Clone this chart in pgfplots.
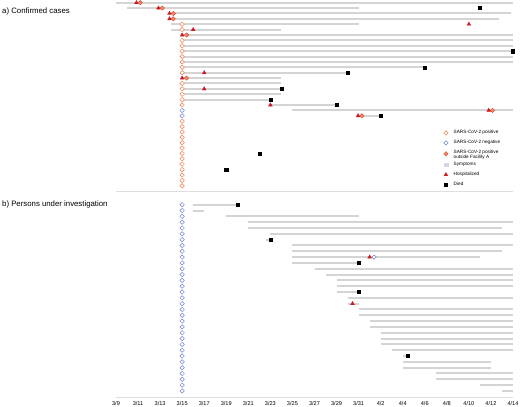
\documentclass[border=0pt]{standalone}
\usepackage{fontspec}
\setmainfont{Liberation Sans}
\usepackage{pgfplots}
\usepackage{pgfplotstable}
\pgfplotsset{compat=1.18}
\definecolor{posor}{RGB}{240,128,80}
\definecolor{negbl}{RGB}{115,132,212}
\definecolor{outfill}{RGB}{240,140,100}
\definecolor{outdraw}{RGB}{215,70,50}
\definecolor{hosp}{RGB}{205,25,35}
\definecolor{seg}{RGB}{212,212,212}
\definecolor{sep}{RGB}{222,222,222}
\definecolor{symp}{RGB}{216,212,232}
\newcommand{\lgs}[1]{\raisebox{0pt}[3.6pt][1.3pt]{#1}}

% ---------- top panel (confirmed cases) ----------
\pgfplotstableread{
x y u
9 0 36
10 1 21
13.8 2 31
13.8 3 29.95
14 4 17
14 5 10
15 6 30
15 7 30
15 8 30
15 9 30
15 10 30
15 11 30
15 12 22
15 13 15
15 14 9
15 15 9
15 16 9
15 17 9
15 18 8
23 19 6
25 20 20
31 21 2
}\topseg
\pgfplotstableread{
x y
15 4
15 5
15 7
15 8
15 9
15 10
15 11
15 12
15 13
15 15
15 16
15 17
15 18
15 19
15 22
15 23
15 24
15 25
15 26
15 27
15 28
15 29
15 30
15 31
15 32
15 33
15 34
}\toppos
\pgfplotstableread{
x y
15 20
15 21
}\topneg
\pgfplotstableread{
x y
11.2 0
13.2 1
14.2 2
14.2 3
15.4 6
15.4 14
43.15 20
31.3 21
}\topout
\pgfplotstableread{
x y
10.85 0
12.85 1
13.85 2
13.85 3
41 4
16 5
15 6
17 13
15 14
17 16
23 19
42.8 20
30.95 21
}\toptri
\pgfplotstableread{
x y
42 1
45 9
37 12
30 13
24 16
23 18
29 19
33 21
22 28
19 31
}\topdied

% ---------- bottom panel (persons under investigation) ----------
\pgfplotstableread{
x y u
16 0 4
16 1 1
19 2 12
21 3 24
21 4 23
23 5 22
22.6 6 0.4
25 7 20
25 8 19
25 9 17
25 10 6
27 11 18
28 12 17
29 13 16
29 14 16
29 15 2
30 16 15
30 17 1
31 18 14
31 19 14
32 20 13
32 21 13
33 22 12
33 23 12
33 24 12
34 25 11
35 26 0.45
35 27 8
35 28 8
38 29 7
38 30 7
42 31 3
44 32 1
}\botseg
\pgfplotstableread{
x y
15 0
15 1
15 2
15 3
15 4
15 5
15 6
15 7
15 8
15 9
15 10
15 11
15 12
15 13
15 14
15 15
15 16
15 17
15 18
15 19
15 20
15 21
15 22
15 23
15 24
15 25
15 26
15 27
15 28
15 29
15 30
15 31
15 32
32.4 9
}\botneg
\pgfplotstableread{
x y
32 9
30.45 17
}\bottri
\pgfplotstableread{
x y
20 0
23 6
31 10
31 15
35.45 26
}\botdied

\pgfplotsset{
  posmark/.style={only marks, mark=square*, mark size=1.55pt, mark options={rotate=45, draw=posor, fill=white, line width=0.5pt}},
  negmark/.style={only marks, mark=square*, mark size=1.55pt, mark options={rotate=45, draw=negbl, fill=white, line width=0.5pt}},
  outmark/.style={only marks, mark=square*, mark size=1.55pt, mark options={rotate=45, draw=outdraw, fill=outfill, line width=0.4pt}},
  sympmark/.style={only marks, mark=square*, mark size=1.8pt, mark options={draw=symp, fill=symp}},
  hospmark/.style={only marks, mark=triangle*, mark size=2.3pt, mark options={draw=hosp, fill=hosp, line width=0.2pt}},
  diedmark/.style={only marks, mark=square*, mark size=1.6pt, mark options={draw=black, fill=black}},
  segstyle/.style={draw=seg, line width=2pt, no marks, quiver={u=\thisrow{u}, v=0}},
  panel/.style={scale only axis, width=397pt, xmin=9, xmax=45, clip=false,
    axis y line=none, axis x line=bottom, axis line style={-, draw=sep, line width=0.6pt},
    major tick length=0pt},
}

\begin{document}
\begin{tikzpicture}
\useasboundingbox (0,0) rectangle (520pt,-407pt);
\node[anchor=west, inner sep=0pt, font=\fontsize{7.8}{9}\selectfont] at (2pt,-11pt) {a) Confirmed cases};
\node[anchor=west, inner sep=0pt, font=\fontsize{7.8}{9}\selectfont] at (2pt,-204.7pt) {b) Persons under investigation};

\begin{axis}[panel, anchor=north west, at={(116pt,0pt)}, height=191.5pt,
  ymin=-35.06, ymax=0.5, xtick=\empty,
  legend image code/.code={\draw[#1] plot coordinates {(0pt,0pt)};},
  legend cell align=left,
  legend style={draw=none, fill=none, inner sep=0pt, at={(axis cs:38.7,-23.3)}, anchor=north west,
    font=\fontsize{4.7}{5.4}\selectfont, row sep=0.9pt, column sep=3.6pt},
]
\addplot[segstyle, forget plot] table[y expr=-\thisrow{y}] {\topseg};
\addplot[posmark, forget plot] table[y expr=-\thisrow{y}] {\toppos};
\addplot[negmark, forget plot] table[y expr=-\thisrow{y}] {\topneg};
\addplot[hospmark, forget plot] table[y expr=-\thisrow{y}] {\toptri};
\addplot[outmark, forget plot] table[y expr=-\thisrow{y}] {\topout};
\addplot[diedmark, forget plot] table[y expr=-\thisrow{y}] {\topdied};
\addlegendimage{posmark}
\addlegendentry{\lgs{SARS-CoV-2 positive}}
\addlegendimage{negmark}
\addlegendentry{\lgs{SARS-CoV-2 negative}}
\addlegendimage{outmark}
\addlegendentry{\raisebox{-2.75pt}[5.4pt][3.1pt]{\shortstack[l]{SARS-CoV-2 positive\\[-2.3pt]outside Facility A}}}
\addlegendimage{sympmark}
\addlegendentry{\lgs{Symptoms}}
\addlegendimage{hospmark}
\addlegendentry{\lgs{Hospitalized}}
\addlegendimage{diedmark}
\addlegendentry{\lgs{Died}}
\end{axis}

\begin{axis}[panel, anchor=north west, at={(116pt,-191.5pt)}, height=205.5pt,
  ymin=-33.04, ymax=2.27,
  xtick={9,11,...,45},
  xticklabels={3/9,3/11,3/13,3/15,3/17,3/19,3/21,3/23,3/25,3/27,3/29,3/31,4/2,4/4,4/6,4/8,4/10,4/12,4/14},
  xticklabel style={font=\fontsize{5.6}{6.4}\selectfont, yshift=-0.8pt},
]
\addplot[segstyle] table[y expr=-\thisrow{y}] {\botseg};
\addplot[negmark] table[y expr=-\thisrow{y}] {\botneg};
\addplot[hospmark] table[y expr=-\thisrow{y}] {\bottri};
\addplot[diedmark] table[y expr=-\thisrow{y}] {\botdied};
\end{axis}
\end{tikzpicture}
\end{document}
